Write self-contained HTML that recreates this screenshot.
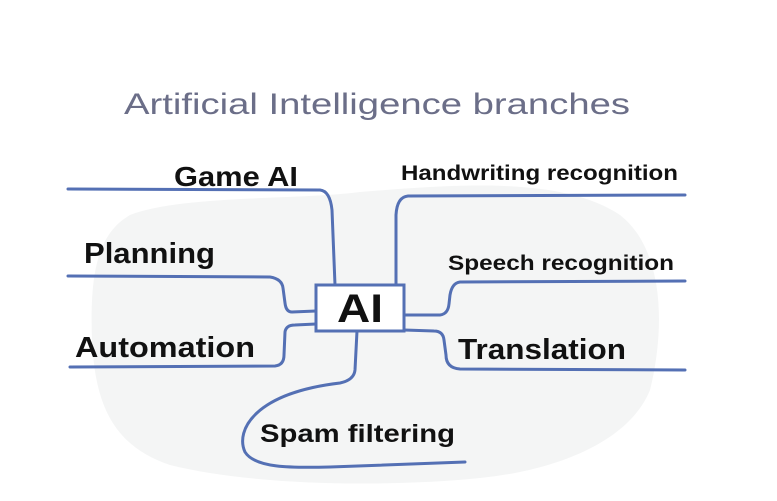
<!DOCTYPE html>
<html><head><style>body{margin:0;background:#fff}svg{display:block}</style></head><body>
<svg width="777" height="501" viewBox="0 0 777 501" xmlns="http://www.w3.org/2000/svg">
<path d="M130 215 C180 195 300 200 360 192 C450 185 560 175 620 215 C665 250 665 330 650 390 C630 440 560 470 480 478 C380 488 250 485 170 465 C110 445 95 400 92 340 C90 280 95 235 130 215 Z" fill="#f4f5f5"/>
<text x="377" y="114" text-anchor="middle" font-family="Liberation Sans, sans-serif" font-size="30" fill="#6b6e88" textLength="506" lengthAdjust="spacingAndGlyphs">Artificial Intelligence branches</text>
<g fill="none" stroke="#5470b4" stroke-width="3" stroke-linecap="round">
<path d="M68 189 L320 190 Q330 191 332 210 L335 285"/>
<path d="M685 195 L408 196 Q397 197 396 215 L396 285"/>
<path d="M68 306 L270 307 Q282 309 283 318 L285 333 Q286 342 292 342 L316 341" transform="translate(0,-30)"/>
<path d="M70 367 L275 366 Q284 365 284 355 L285 332 Q286 325 295 325 L316 324"/>
<path d="M685 312 L460 313 Q452 314 450 326 L449 335 Q448 345 440 346 L404 346" transform="translate(0,-31)"/>
<path d="M685 370 L460 369 Q446 368 446 355 L444 340 Q443 331 434 331 L404 330"/>
<path d="M357 331 L355 370 Q354 380 340 383 C255 393 235 430 245 452 C255 468 290 468 330 467 L465 462"/>
</g>
<rect x="316" y="285" width="88" height="46" fill="#fff" stroke="#5470b4" stroke-width="3"/>
<g font-family="Liberation Sans, sans-serif" font-weight="bold" fill="#111">
<text x="360" y="322" text-anchor="middle" font-size="40" textLength="46" lengthAdjust="spacingAndGlyphs">AI</text>
<text x="174" y="186" font-size="28" textLength="124" lengthAdjust="spacingAndGlyphs">Game AI</text>
<text x="84" y="263" font-size="29" textLength="131" lengthAdjust="spacingAndGlyphs">Planning</text>
<text x="75" y="357" font-size="29" textLength="180" lengthAdjust="spacingAndGlyphs">Automation</text>
<text x="401" y="180" font-size="21" textLength="277" lengthAdjust="spacingAndGlyphs">Handwriting recognition</text>
<text x="448" y="270" font-size="21" textLength="226" lengthAdjust="spacingAndGlyphs">Speech recognition</text>
<text x="458" y="359" font-size="29" textLength="168" lengthAdjust="spacingAndGlyphs">Translation</text>
<text x="260" y="442" font-size="25" textLength="195" lengthAdjust="spacingAndGlyphs">Spam filtering</text>
</g>
</svg>
</body></html>
